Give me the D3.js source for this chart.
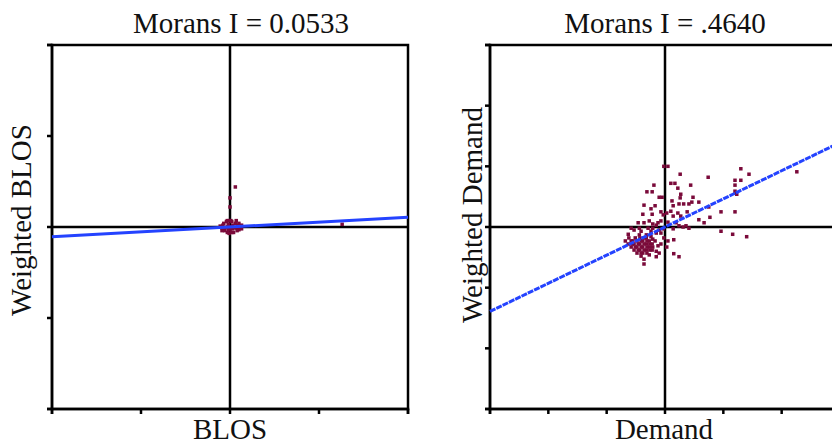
<!DOCTYPE html>
<html lang="en">
<head>
  <meta charset="UTF-8">
  <style>
    body { margin: 0; background: #fff; }
    svg { display: block; font-family: "Liberation Serif", "Times New Roman", serif; }
    .frame { fill: none; stroke: #000; stroke-width: 2.5; }
    .axis path { stroke: #000; stroke-width: 2.5; }
    .axis line { stroke: #000; stroke-width: 2.5; }
    .zero { stroke: #000; stroke-width: 2.5; }
    .title, .label { font-size: 29px; fill: #111; }
  </style>
</head>
<body>
  <svg class="chart"></svg>
  <script src="https://cdnjs.cloudflare.com/ajax/libs/d3/7.8.5/d3.min.js"></script>
  <script>
    // left panel: BLOS (standardised values)
    const blosX = [-0.08, -0.04, -0.01, 0.02, 0.06, 0.09, 0.12, 0.10, 0.04, -0.01,
      -0.06, -0.09, -0.03, 0.01, 0.06, -0.02, 0.03, 0.00, 0.08, -0.06,
      -0.07, -0.03, 0.01, 0.07, 0.10, 0.13, 0.13, 0.08, 0.02, -0.03,
      -0.09, -0.11, 0.03, -0.02, 0.10,
      0.06, 0.00, 0.00, 1.26]
    const blosY = [0.02, 0.06, 0.07, 0.06, 0.04, 0.02, 0.00, -0.03, -0.06, -0.07,
      -0.04, -0.01, 0.00, 0.00, -0.01, 0.03, 0.02, -0.03, -0.01, -0.01,
      0.04, 0.07, 0.07, 0.07, 0.04, 0.02, -0.02, -0.04, -0.06, -0.06,
      -0.04, 0.01, -0.02, -0.03, 0.00,
      0.44, 0.32, 0.22, 0.03]

    // right panel: Demand (standardised values)
    const demandX = [-0.02, 0.05, 0.26, 1.30, 1.44, 0.74, 1.20, 1.20, 1.20, 1.23,
      1.30, 2.26, -0.19, 0.10, 0.17, 0.44, -0.31, -0.22, 0.22, -0.10,
      -0.05, 0.27, 0.26, 0.48, -0.36, -0.17, 0.12, 0.14, 0.24, 0.32,
      0.41, 0.46, 0.58, 0.75, 0.96, 1.20, -0.38, -0.24, -0.22, -0.07,
      -0.03, 0.03, 0.10, 0.14, 0.22, 0.27, 0.38, 0.77, 0.58, 0.67,
      -0.46, -0.36, -0.27, -0.21, -0.12, -0.07, 0.05, 0.19, 0.24, 0.31,
      0.36, -0.58, -0.53, -0.44, -0.29, -0.21, -0.10, -0.15, 0.14, 0.41,
      0.96, 1.16, 1.40, 0.15, -0.02, 0.05, 0.03, -0.15, -0.10, 0.15,
      0.24, -0.15, -0.36, -0.36, -0.07, -0.21, -0.32, -0.63, -0.58, -0.53,
      -0.48, -0.48, -0.43, -0.43, -0.38, -0.38, -0.38, -0.32, -0.32, -0.27,
      -0.27, -0.22, -0.22, -0.53, -0.58, -0.63, -0.43, -0.32, -0.17, -0.48,
      -0.27, -0.41, -0.51, -0.12, -0.68,
      -0.62, -0.56, -0.51, -0.46, -0.46, -0.41, -0.41, -0.41, -0.36, -0.36,
      -0.36, -0.31, -0.31, -0.31, -0.26, -0.26, -0.21, -0.55, -0.44, -0.24,
      -0.15, -0.07, -0.03, -0.24, -0.41]
    const demandY = [1.00, 1.00, 0.87, 0.96, 0.87, 0.82, 0.77, 0.69, 0.59, 0.54,
      0.77, 0.91, 0.69, 0.72, 0.72, 0.69, 0.58, 0.58, 0.64, 0.49,
      0.49, 0.54, 0.48, 0.49, 0.36, 0.35, 0.43, 0.35, 0.38, 0.38,
      0.38, 0.41, 0.41, 0.33, 0.25, 0.25, 0.21, 0.30, 0.21, 0.25,
      0.20, 0.23, 0.26, 0.18, 0.23, 0.18, 0.25, 0.16, 0.12, 0.07,
      0.07, 0.07, 0.10, 0.05, 0.07, 0.10, 0.08, 0.07, 0.02, 0.00,
      0.02, -0.02, -0.05, -0.02, -0.02, -0.02, -0.05, 0.03, -0.03, -0.02,
      -0.07, -0.12, -0.16, -0.21, -0.18, -0.23, -0.33, -0.40, -0.43, -0.44,
      -0.49, -0.49, -0.61, -0.53, -0.28, -0.20, -0.13, -0.12, -0.23, -0.28,
      -0.23, -0.33, -0.28, -0.38, -0.23, -0.33, -0.43, -0.28, -0.38, -0.23,
      -0.33, -0.28, -0.38, -0.38, -0.33, -0.28, -0.18, -0.18, -0.23, -0.43,
      -0.46, -0.48, -0.18, -0.31, -0.23,
      -0.18, -0.28, -0.33, -0.28, -0.38, -0.23, -0.33, -0.43, -0.18, -0.28,
      -0.38, -0.23, -0.33, -0.43, -0.28, -0.38, -0.33, -0.23, -0.13, -0.16,
      -0.10, -0.10, -0.03, -0.07, -0.07]

    const moransI = [0.0533, 0.4640]
    const titles = ['Morans I = 0.0533', 'Morans I = .4640']
    const xLabels = ['BLOS', 'Demand']
    const yLabels = ['Weighted BLOS', 'Weighted Demand']
    const ticksLeft = [-2, -1, 0, 1, 2]
    const ticksRight = [-3, -2, -1, 0, 1, 2, 3]

    const width = 832, height = 445
    const svg = d3.select('.chart')
      .attr('width', width)
      .attr('height', height)

    const panels = [
      { xs: blosX, ys: blosY, dom: [-2, 2], ticks: ticksLeft,
        left: 52, right: 408, titleX: 241, labelX: 230, yLabelX: 31, yLabelY: 220, dash: null },
      { xs: demandX, ys: demandY, dom: [-3, 3], ticks: ticksRight,
        left: 490, right: 840, titleX: 665, labelX: 664, yLabelX: 482, yLabelY: 215, dash: '6,1' }
    ]
    const plotTop = 45, plotBottom = 409

    panels.forEach((p, i) => {
      const x = d3.scaleLinear().domain(p.dom).range([p.left, p.right])
      const y = d3.scaleLinear().domain(p.dom).range([plotBottom, plotTop])
      const g = svg.append('g')

      // ticks
      g.append('g').attr('class', 'axis')
        .attr('transform', `translate(0,${plotBottom})`)
        .call(d3.axisBottom(x).tickValues(p.ticks).tickSize(5).tickFormat('').offset(0))
      g.append('g').attr('class', 'axis')
        .attr('transform', `translate(${p.left},0)`)
        .call(d3.axisLeft(y).tickValues(p.ticks).tickSize(5).tickFormat('').offset(0))

      g.append('rect').attr('class', 'frame')
        .attr('x', x(p.dom[0])).attr('y', y(p.dom[1]))
        .attr('width', x(p.dom[1]) - x(p.dom[0]))
        .attr('height', y(p.dom[0]) - y(p.dom[1]))

      // zero lines
      g.append('line').attr('class', 'zero')
        .attr('x1', x(0)).attr('x2', x(0)).attr('y1', y(p.dom[0])).attr('y2', y(p.dom[1]))
      g.append('line').attr('class', 'zero')
        .attr('x1', x(p.dom[0])).attr('x2', x(p.dom[1])).attr('y1', y(0)).attr('y2', y(0))

      // points
      g.selectAll('rect.pt')
        .data(p.xs.map((v, k) => [v, p.ys[k]]))
        .enter().append('rect')
          .attr('class', 'pt')
          .attr('x', d => x(d[0]) - 1.75)
          .attr('y', d => y(d[1]) - 1.75)
          .attr('width', 3.5)
          .attr('height', 3.5)
          .attr('fill', '#7a0a3a')

      // regression line, slope = Moran's I
      const line = d3.line().x(d => x(d)).y(d => y(d * moransI[i]))
      g.append('path')
        .attr('d', line(p.dom))
        .attr('fill', 'none')
        .attr('stroke', '#2443ff')
        .attr('stroke-width', 3)
        .attr('stroke-dasharray', p.dash)

      // texts
      svg.append('text').attr('class', 'title')
        .attr('x', p.titleX).attr('y', 33)
        .attr('text-anchor', 'middle')
        .text(titles[i])
      svg.append('text').attr('class', 'label')
        .attr('x', p.labelX).attr('y', 439)
        .attr('text-anchor', 'middle')
        .text(xLabels[i])
      svg.append('text').attr('class', 'label')
        .attr('transform', `translate(${p.yLabelX},${p.yLabelY}) rotate(-90)`)
        .attr('text-anchor', 'middle')
        .text(yLabels[i])
    })
  </script>
</body>
</html>
